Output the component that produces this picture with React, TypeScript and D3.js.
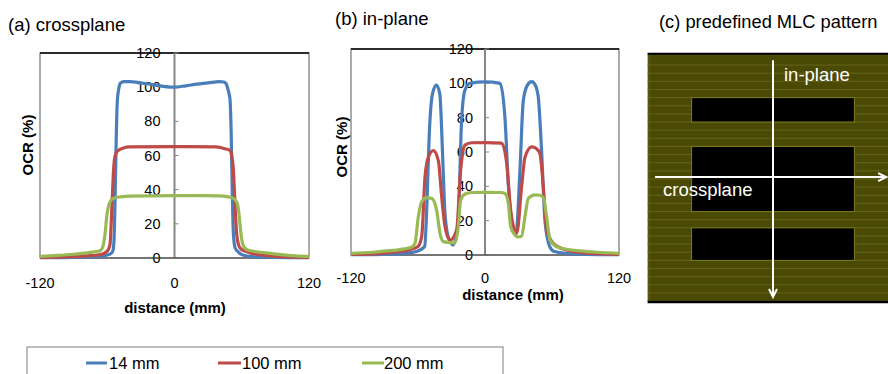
import React from 'react';
import * as d3 from 'd3';

const FONT = '"Liberation Sans", Arial, Helvetica, sans-serif';

// series names + Excel 2007 line colours
const DEPTHS = ['14 mm', '100 mm', '200 mm'];
const COLORS = ['#4A7EBB', '#BE4B48', '#98B954'];

const X_TICKS = [-120, 0, 120];
const Y_TICKS = [0, 20, 40, 60, 80, 100, 120];

// (a) crossplane profiles: [distance mm, OCR %]
const cross14: [number, number][] = [
  [-120, 0.2], [-90, 0.3], [-75, 0.6], [-66, 1], [-60, 1.8], [-57, 2.5], [-55, 4], [-54, 10],
  [-53, 35], [-52, 70], [-51, 92], [-50, 98], [-48, 102.5], [-45, 103.2], [-40, 103.3],
  [-30, 102.5], [-20, 101.5], [-10, 100.5], [0, 100], [10, 100.8], [20, 101.8], [30, 102.5],
  [40, 103.3], [44, 103], [46, 102], [48, 98], [49.5, 93], [50.5, 75], [51.5, 40], [52.5, 15],
  [54, 6], [57, 3.5], [60, 2], [66, 1], [75, 0.6], [90, 0.3], [120, 0.2],
];
const cross100: [number, number][] = [
  [-120, 0.3], [-100, 0.6], [-85, 1], [-72, 1.5], [-66, 2], [-62, 3], [-59, 5], [-57.5, 8],
  [-56.5, 20], [-55.5, 35], [-54.5, 50], [-53.5, 58], [-52, 61.5], [-50, 63], [-46, 64.3],
  [-40, 65], [0, 65.2], [37, 65], [45, 64], [49.5, 63], [51, 60], [52.5, 52], [53.5, 38],
  [54.5, 24], [55.5, 14], [57, 8], [59, 5.5], [63, 4], [70, 2.5], [80, 1.5], [95, 0.8], [120, 0.4],
];
const cross200: [number, number][] = [
  [-120, 1], [-105, 1.5], [-90, 2.2], [-78, 3], [-70, 3.8], [-66, 4.5], [-64, 6.5], [-62, 14],
  [-60.5, 24], [-59, 30], [-57, 33.5], [-54, 35], [-48, 35.8], [-40, 36.2], [0, 36.5],
  [40, 36.4], [48, 35.8], [53, 34.8], [56, 32], [57.5, 26], [59, 16], [60.5, 9], [62.5, 6],
  [66, 4.5], [72, 3.8], [82, 3], [95, 2], [108, 1.3], [120, 1],
];

// (b) in-plane profiles
const in14: [number, number][] = [
  [-120, 0.2], [-90, 0.4], [-75, 0.8], [-65, 1.5], [-58, 3], [-54, 5], [-52, 30], [-50, 69],
  [-47, 94], [-43.5, 99], [-40.5, 94], [-38, 59], [-36, 26], [-33, 10.7], [-28.5, 5.8],
  [-24, 20], [-21, 78], [-18, 96], [-13.5, 100], [0, 100.8], [13.5, 100], [18, 78.6],
  [21, 39.8], [24.8, 16.5], [27.8, 12.6], [31.3, 49.5], [34.3, 90], [38, 99], [41.8, 101],
  [45, 99], [47.7, 92], [50.8, 59], [53.7, 20], [58, 4.8], [62, 2], [75, 0.8], [90, 0.4], [120, 0.2],
];
const in100: [number, number][] = [
  [-120, 0.3], [-95, 0.8], [-80, 1.8], [-68, 3], [-60, 5], [-56.7, 10.7], [-53.7, 45.6],
  [-50.7, 57], [-46.3, 60.8], [-41.8, 55], [-38.8, 34], [-35.8, 16.5], [-31.3, 8.7],
  [-25.4, 14.6], [-21.8, 49.5], [-17.9, 64], [-12, 65.4], [0, 65.5], [14.9, 65.2],
  [19.4, 53.4], [23, 26], [28.4, 12.6], [32.8, 39.8], [35.8, 57], [41.8, 63], [46, 62],
  [49.2, 59], [52.2, 39.8], [55.2, 14.6], [61.2, 6.8], [68, 4], [80, 2], [95, 1], [120, 0.4],
];
const in200: [number, number][] = [
  [-120, 1], [-100, 1.6], [-85, 2.5], [-72, 3.6], [-66, 4.5], [-62.7, 6.8], [-59.7, 22.3],
  [-56.7, 31], [-52.2, 33.4], [-47.8, 33], [-43.3, 26], [-40.3, 12.6], [-37.3, 7.8],
  [-32, 7.3], [-27, 7], [-23.9, 16.5], [-21.8, 32], [-17.9, 35.5], [-12, 36.4], [0, 36.5],
  [14, 36.4], [17.9, 35.8], [20.9, 30], [23, 16.5], [26.9, 11.6], [30, 10.5], [32.8, 11],
  [35.8, 22.3], [38.8, 33], [44.8, 35], [49, 34.8], [52.2, 33.4], [55.2, 22.3], [58.2, 8.7],
  [64.2, 4.8], [72, 3.5], [85, 2.4], [100, 1.6], [120, 1],
];

// (c) MLC pattern, mm at isocentre (crossplane x, in-plane y downwards)
const FIELD_X = [-77, 75];
const FIELD_Y = [-77, 75];
const LEAF_EDGES = d3.range(-70, 76, 5);
const OPEN_X = [-50, 50];
const OPEN_Y: [number, number][] = [[-50, -35], [-20, 20], [30, 50]];

type Series = [number, number][];

interface PanelProps {
  left: number; right: number; top: number; bottom: number;
  data: Series[];
  title: string; titleX: number; titleY: number;
  xTitleX: number; xTitleY: number;
  yTitleX: number; yTitleY: number;
  xLabelY: number; yLabelGap: number;
  id: string;
}

function ProfilePanel(p: PanelProps) {
  const x = d3.scaleLinear().domain([-120, 120]).range([p.left, p.right]);
  const y = d3.scaleLinear().domain([0, 120]).range([p.bottom, p.top]);
  const line = d3.line<[number, number]>()
    .x(d => x(d[0]))
    .y(d => y(d[1]))
    .curve(d3.curveMonotoneX);
  const x0 = x(0);

  return (
    <g fontFamily={FONT}>
      <text x={p.titleX} y={p.titleY} fontSize={18.5} fill="#000">{p.title}</text>
      <clipPath id={p.id}>
        <rect x={p.left} y={p.top - 4} width={p.right - p.left} height={p.bottom - p.top + 6} />
      </clipPath>
      {/* plot frame */}
      <rect x={p.left} y={p.top} width={p.right - p.left} height={p.bottom - p.top}
        fill="#fff" stroke="#595959" strokeWidth={1} />
      <line x1={p.left} x2={p.right} y1={p.top} y2={p.top} stroke="#000" strokeWidth={1.5} />
      {/* vertical axis at 0 */}
      <line x1={x0} x2={x0} y1={p.top} y2={p.bottom} stroke="#868686" strokeWidth={2} />
      {Y_TICKS.map(t => (
        <g key={t}>
          <line x1={x0} x2={x0 + 4} y1={y(t)} y2={y(t)} stroke="#868686" strokeWidth={1} />
          <text x={x0 - p.yLabelGap} y={y(t)} dy="0.35em" textAnchor="end" fontSize={14.5}>{t}</text>
        </g>
      ))}
      <line x1={p.left} x2={p.right} y1={p.bottom} y2={p.bottom} stroke="#404040" strokeWidth={1} />
      {X_TICKS.map(t => (
        <text key={t} x={x(t)} y={p.xLabelY} textAnchor="middle" fontSize={14.5}>{t}</text>
      ))}
      <g clipPath={`url(#${p.id})`}>
        {p.data.map((s, i) => (
          <path key={i} d={line(s) ?? ''} fill="none" stroke={COLORS[i]} strokeWidth={3.2}
            strokeLinejoin="round" strokeLinecap="round" />
        ))}
      </g>
      <text x={p.xTitleX} y={p.xTitleY} textAnchor="middle" fontSize={15} fontWeight="bold">
        distance (mm)
      </text>
      <text transform={`translate(${p.yTitleX},${p.yTitleY}) rotate(-90)`} dy="0.35em"
        textAnchor="middle" fontSize={15} fontWeight="bold">OCR (%)</text>
    </g>
  );
}

function MlcPanel() {
  const sx = d3.scaleLinear().domain([0, 1]).range([773, 773 + 1.628]);
  const sy = d3.scaleLinear().domain([0, 1]).range([179, 179 + 1.628]);
  const fx0 = sx(FIELD_X[0]), fx1 = sx(FIELD_X[1]) + 40;
  const fy0 = sy(FIELD_Y[0]), fy1 = sy(FIELD_Y[1]);
  const arrowV = { x: sx(0), y0: sy(-73), y1: sy(72.5) };
  const arrowH = { y: sy(-1.2), x0: sx(-72.5), x1: sx(69.5) };
  return (
    <g fontFamily={FONT}>
      <text x={659} y={28} fontSize={18.3} fill="#000">(c) predefined MLC pattern</text>
      <rect x={fx0} y={fy0} width={fx1 - fx0} height={fy1 - fy0} fill="#4B4A04" />
      {LEAF_EDGES.map(e => (
        <line key={e} x1={fx0} x2={fx1} y1={sy(e)} y2={sy(e)} stroke="#656419" strokeWidth={1} />
      ))}
      <line x1={fx0 + 1.5} x2={fx0 + 1.5} y1={fy0} y2={fy1} stroke="#656419" strokeWidth={1} />
      <line x1={fx0} x2={fx1} y1={fy0} y2={fy0} stroke="#000" strokeWidth={2} />
      <line x1={fx0} x2={fx1} y1={fy1 + 1} y2={fy1 + 1} stroke="#000" strokeWidth={2.5} />
      {OPEN_Y.map(([a, b], i) => (
        <rect key={i} x={sx(OPEN_X[0])} y={sy(a)} width={sx(OPEN_X[1]) - sx(OPEN_X[0])}
          height={sy(b) - sy(a)} fill="#000" stroke="#7E7D1C" strokeWidth={1} />
      ))}
      {/* in-plane arrow */}
      <line x1={arrowV.x} x2={arrowV.x} y1={arrowV.y0} y2={arrowV.y1} stroke="#fff" strokeWidth={2} />
      <polyline points={`${arrowV.x - 4},${arrowV.y1 - 8} ${arrowV.x},${arrowV.y1} ${arrowV.x + 4},${arrowV.y1 - 8}`}
        fill="none" stroke="#fff" strokeWidth={2} />
      {/* crossplane arrow */}
      <line x1={arrowH.x0} x2={arrowH.x1} y1={arrowH.y} y2={arrowH.y} stroke="#fff" strokeWidth={2} />
      <polyline points={`${arrowH.x1 - 8},${arrowH.y - 4} ${arrowH.x1},${arrowH.y} ${arrowH.x1 - 8},${arrowH.y + 4}`}
        fill="none" stroke="#fff" strokeWidth={2} />
      <text x={784} y={81} fontSize={18.5} fill="#fff">in-plane</text>
      <text x={663} y={196} fontSize={18.5} fill="#fff">crossplane</text>
    </g>
  );
}

function Legend() {
  const items = [
    { x0: 86, x1: 107, tx: 109 },
    { x0: 218, x1: 241, tx: 242 },
    { x0: 362, x1: 384, tx: 384 },
  ];
  return (
    <g fontFamily={FONT}>
      <rect x={27} y={347} width={476} height={40} fill="#fff" stroke="#7F7F7F" strokeWidth={1} />
      {items.map((it, i) => (
        <g key={i}>
          <line x1={it.x0} x2={it.x1} y1={363} y2={363} stroke={COLORS[i]} strokeWidth={3} />
          <text x={it.tx} y={369} fontSize={16.5} fill="#000">{DEPTHS[i]}</text>
        </g>
      ))}
    </g>
  );
}

export default function App() {
  return (
    <svg width={888} height={374} style={{ position: 'absolute', left: 0, top: 0, background: '#fff' }}>
      <rect width={888} height={374} fill="#fff" />
      <ProfilePanel id="clipA" left={40} right={309} top={53} bottom={258}
        data={[cross14, cross100, cross200]}
        title="(a) crossplane" titleX={8} titleY={31}
        xTitleX={175} xTitleY={313} yTitleX={28} yTitleY={145}
        xLabelY={288} yLabelGap={14} />
      <ProfilePanel id="clipB" left={351} right={619} top={49} bottom={255}
        data={[in14, in100, in200]}
        title="(b) in-plane" titleX={335} titleY={24.5}
        xTitleX={513} xTitleY={300} yTitleX={342} yTitleY={147}
        xLabelY={283} yLabelGap={12} />
      <MlcPanel />
      <Legend />
    </svg>
  );
}
